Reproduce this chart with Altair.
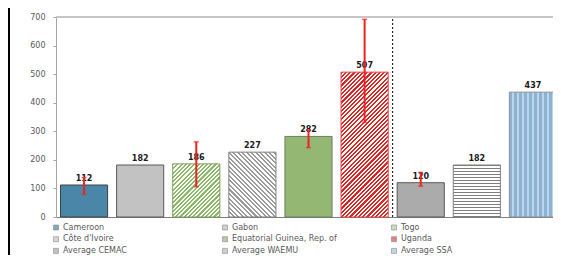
import math
import altair as alt
import pandas as pd

categories = ["Cameroon", "Gabon", "Togo", "Côte d'Ivoire", "Equatorial Guinea, Rep. of",
              "Uganda", "Average CEMAC", "Average WAEMU", "Average SSA"]
values = [112, 182, 186, 227, 282, 507, 120, 182, 437]
err_low = [79, None, 106, None, 243, 331, 108, None, None]
err_high = [138, None, 263, None, 304, 692, 156, None, None]
y_ticks = [0, 100, 200, 300, 400, 500, 600, 700]
swatches = ["#4a86a8", "#bdbdbd", "#b3d29a", "#c4c4c4", "#94b874",
            "#e24a4a", "#a8a8a8", "#bcbcbc", "#a4c5e0"]
# legend is filled column by column: order so that it reads row by row
legend_order = [0, 3, 6, 1, 4, 7, 2, 5, 8]

# pattern styles (kind, colorA, colorB, period px, duty)
patterns = [
    ("solid", "#4a86a8", None, 0, 0),
    ("solid", "#c2c2c2", None, 0, 0),
    ("up", "#8dba68", "#ffffff", 3.0, 0.5),
    ("down", "#9a9a9a", "#ffffff", 3.2, 0.45),
    ("solid", "#94b874", None, 0, 0),
    ("up", "#e02424", "#ffffff", 3.0, 0.5),
    ("solid", "#ababab", None, 0, 0),
    ("horiz", "#7f7f7f", "#ffffff", 3.0, 0.4),
    ("vert", "#8cb3d4", "#bcd5ea", 5.0, 0.5),
]
strokes = ["#404040", "#595959", "#7f9f60", "#7f7f7f", "#6f7f60",
           "#e04040", "#595959", "#7f7f7f", "#8f8f8f"]

PLOT_W = 505
PLOT_H = 200
Y_MAX = 700
PAD_IN = 0.16
PAD_OUT = 0.08
step = PLOT_W / (len(categories) - PAD_IN + 2 * PAD_OUT)
bw = step * (1 - PAD_IN)

df = pd.DataFrame({"cat": categories, "value": values, "lo": err_low, "hi": err_high})


def make_stops(length, period, ca, cb, duty):
    p = period / length
    out = []
    off = 0.0
    while off < 1:
        a = min(off, 1)
        b = min(off + p * duty, 1)
        c = min(off + p, 1)
        out += [(a, ca), (b, ca), (b, cb), (c, cb)]
        off += p
    return [alt.GradientStop(offset=round(o, 5), color=col) for o, col in out]


def make_fill(i):
    kind, ca, cb, period, duty = patterns[i]
    if kind == "solid":
        return ca
    w = bw
    h = values[i] * PLOT_H / Y_MAX
    if kind in ("up", "down"):
        k = (w + h) / (w * w + h * h)
        L = (w + h) / math.sqrt(2)
        stops = make_stops(L, period, ca, cb, duty)
        if kind == "up":
            return alt.LinearGradient(gradient="linear", stops=stops,
                                      x1=0, y1=0, x2=w * k, y2=h * k)
        return alt.LinearGradient(gradient="linear", stops=stops,
                                  x1=0, y1=1, x2=w * k, y2=1 - h * k)
    if kind == "vert":
        stops = make_stops(w, period, ca, cb, duty)
        return alt.LinearGradient(gradient="linear", stops=stops, x1=0, y1=0, x2=1, y2=0)
    stops = make_stops(h, period, ca, cb, duty)
    return alt.LinearGradient(gradient="linear", stops=stops, x1=0, y1=0, x2=0, y2=1)


x_enc = alt.X("cat:N", sort=categories,
              scale=alt.Scale(paddingInner=PAD_IN, paddingOuter=PAD_OUT),
              axis=alt.Axis(labels=False, ticks=False, title=None, domainColor="#7f7f7f"))
y_scale = alt.Scale(domain=[0, Y_MAX], nice=False)
y_axis = alt.Axis(values=y_ticks, title=None, grid=False, tickSize=3,
                  labelPadding=8, tickColor="#a6a6a6", domainColor="#a6a6a6")


def Y(field):
    return alt.Y(field, scale=y_scale, axis=y_axis)


base = alt.Chart(df)

layers = []
# top frame line
layers.append(base.mark_rule(color="#c4c4c4", strokeWidth=1.5)
              .encode(y=alt.Y(datum=700, scale=y_scale, axis=y_axis)))

for i, c in enumerate(categories):
    layers.append(
        base.transform_filter(alt.datum.cat == c)
        .mark_bar(fill=make_fill(i), stroke=strokes[i], strokeWidth=1)
        .encode(x=x_enc, y=Y("value:Q"))
    )

# legend layer (no visible marks)
layers.append(
    base.transform_filter("datum.value < 0")
    .mark_square(filled=True)
    .encode(x=x_enc, y=Y("value:Q"),
            color=alt.Color("cat:N",
                            scale=alt.Scale(domain=[categories[j] for j in legend_order],
                                            range=[swatches[j] for j in legend_order]),
                            legend=alt.Legend(title=None, orient="none", legendX=-4, legendY=206.5,
                                              columns=3, gridAlign="all", columnPadding=53,
                                              rowPadding=3.7, symbolType="square", symbolSize=25,
                                              symbolStrokeColor="#595959", symbolStrokeWidth=0.6,
                                              labelOffset=3, labelFontSize=8, labelColor="#595959",
                                              labelFont="DejaVu Sans", padding=0, labelLimit=300)))
)

# value labels
layers.append(
    base.mark_text(dy=-4, baseline="alphabetic", fontWeight="bold", fontSize=8,
                   font="DejaVu Sans", color="#1a1a1a")
    .encode(x=x_enc, y=Y("value:Q"), text="value:Q")
)

# separator dashed line
layers.append(
    alt.Chart(pd.DataFrame({"cat": ["Average CEMAC"]}))
    .mark_rule(color="#000000", strokeDash=[2, 2], strokeWidth=1, xOffset=-step / 2)
    .encode(x=x_enc, y=alt.Y(datum=0, scale=y_scale, axis=y_axis), y2=alt.datum(694))
)

# error bars
err = base.transform_filter("isValid(datum.lo)")
layers.append(
    err.mark_rule(color="#ee2222", strokeWidth=2)
    .encode(x=x_enc, y=Y("lo:Q"), y2="hi:Q")
)
layers.append(
    err.mark_tick(color="#ee2222", thickness=1.5, size=5)
    .encode(x=x_enc, y=Y("lo:Q"))
)
layers.append(
    err.mark_tick(color="#ee2222", thickness=1.5, size=5)
    .encode(x=x_enc, y=Y("hi:Q"))
)

# left black border
layers.append(
    base.mark_rule(color="#000000", strokeWidth=2)
    .encode(x=alt.value(-47), y=alt.value(-9), y2=alt.value(238))
)

chart = (
    alt.layer(*layers)
    .properties(width=PLOT_W, height=PLOT_H,
                autosize=alt.AutoSizeParams(type="none"),
                padding={"left": 48, "top": 9, "right": -8, "bottom": 38})
    .configure(font="DejaVu Sans")
    .configure_view(stroke=None)
    .configure_axis(labelFont="DejaVu Sans", labelFontSize=8, labelColor="#595959")
)

chart.save("out.html", embed_options={"renderer": "svg", "actions": False})
